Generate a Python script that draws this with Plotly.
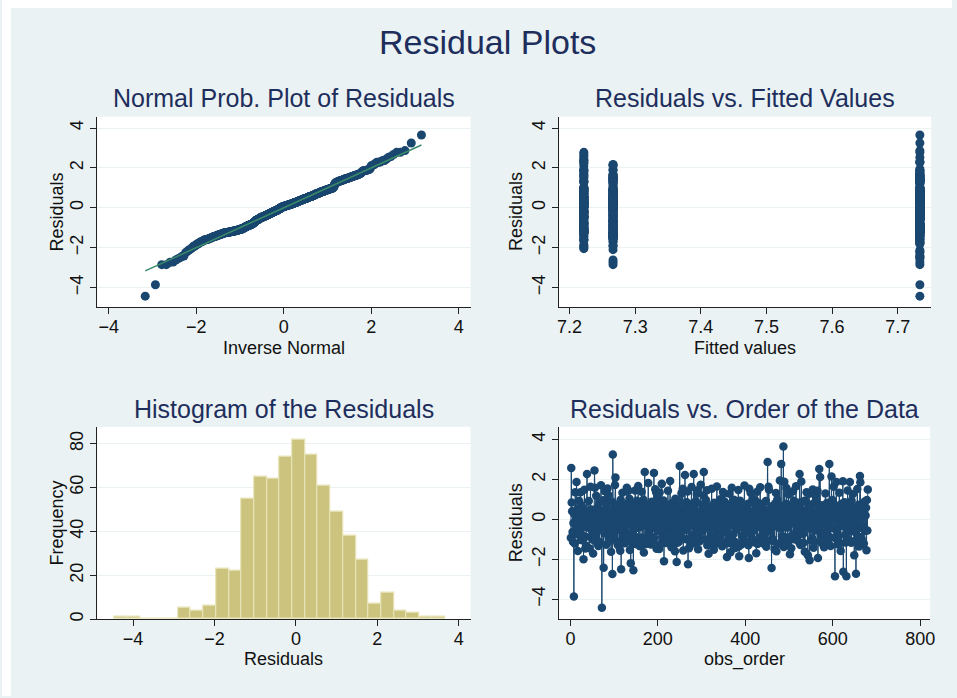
import plotly.graph_objects as go
from statistics import NormalDist, mean, stdev

# ---------------- data ----------------
residuals = [
    -0.92, 2.57, 0.85, 0.41, -0.63, -1.12, -0.18, -3.86, 0.27, -1.21, 1.36, -0.35, 0.08, 1.87, -0.74, 0.52, -1.58, 0.13, -0.46, 0.94,
    0.33, -0.57, 1.36, -0.12, 0.71, -1.05, 0.19, -0.83, 0.58, -2.00, 0.04, 1.48, -0.29, -1.46, -0.87, -1.32, 0.22, 2.28, -0.41, 0.15,
    -0.21, 0.92, -1.44, 0.36, -0.07, 1.63, -0.88, 0.49, -0.54, 0.11, -1.02, -1.71, 0.26, -0.39, 2.45, 1.58, -0.95, 0.03, 1.19, -0.61,
    0.57, -0.26, -1.24, -1.33, 0.14, 0.83, -1.13, 0.38, -0.48, 1.71, 0.02, -4.43, 0.45, -0.15, 0.96, -2.42, 0.31, -0.69, 1.41, -0.33,
    0.18, -1.27, 0.74, -0.44, 1.55, -0.09, 1.22, -0.97, 0.29, -1.08, -0.58, 0.43, -1.62, 0.07, 0.89, -2.73, 3.25, -0.22, 0.51, -0.81,
    0.24, 1.72, 2.10, -0.36, 0.65, -1.09, 0.16, -1.27, -0.52, -0.03, 0.79, -1.38, 0.35, -1.57, 0.98, -2.50, 0.47, -0.19, 1.33, -0.86,
    0.09, -0.49, -1.16, 0.55, -1.19, 0.28, -0.31, 0.77, 1.59, -0.72, 0.12, -0.98, 1.43, -0.14, 1.04, -1.53, 0.39, -2.20, 0.84, -0.25,
    0.46, -1.21, -0.62, -2.55, 0.71, 0.05, -0.84, 1.45, -0.17, 0.32, -1.24, 0.93, -0.42, 0.19, 1.67, -1.16, 0.58, -0.06, -1.35, 0.86,
    -0.38, 0.67, 1.38, -0.91, 0.21, -0.13, 0.99, -1.66, 0.44, 2.37, -1.25, 0.06, -1.13, -0.28, 0.73, -1.07, 0.37, 1.82, -0.64, 0.17,
    0.54, -0.79, 0.25, -1.26, -0.45, 0.88, -1.16, 0.01, 0.61, -0.34, 2.32, -0.93, 0.42, 1.51, -0.20, 1.36, -1.47, 0.13, 1.09, -0.57,
    -0.11, 0.82, -1.48, 1.35, 0.30, -1.23, 0.59, -0.04, 1.78, -0.87, 0.15, -0.40, 0.95, -2.10, 0.48, 0.07, -0.59, -1.18, -0.26, 0.69,
    0.36, -1.02, 1.44, -0.15, 0.72, -0.50, 0.20, 1.92, -0.77, 0.10, -1.40, 0.81, -0.32, 0.53, -0.08, -1.22, -0.96, 0.40, -1.60, 1.03,
    -0.45, 0.63, -2.13, 0.28, -1.17, -0.70, 0.04, -1.12, 0.90, 2.67, -0.23, 0.47, -0.85, 1.31, 0.16, -0.37, 1.54, -1.56, 0.23, -0.02,
    0.61, 2.23, -0.53, 0.11, -0.99, 0.86, -0.18, 1.40, -2.25, 0.34, -1.44, -1.06, 0.00, -1.29, 0.55, -0.30, 1.62, -0.82, 0.19, 0.78,
    -0.27, 2.28, -0.75, 0.50, -1.18, 0.14, 0.91, -0.43, 1.28, -0.05, 1.46, -1.49, 0.31, -0.89, -1.11, 0.08, -0.58, 1.74, -0.16, 0.44,
    0.73, -0.62, 0.18, 1.20, 2.37, -0.41, 0.05, -1.01, 0.57, 0.97, -0.24, 1.46, -1.30, 0.26, -0.12, -1.72, 0.64, -0.47, -1.07, 0.37,
    -0.83, 0.29, 1.54, -0.19, 0.69, -1.26, 0.10, -1.52, 0.83, -1.24, -0.35, 0.47, -0.94, 0.02, 1.65, -0.67, 0.33, -1.08, 0.60, -0.09,
    0.43, -0.29, 1.01, -0.78, 0.22, 0.80, -1.34, 0.12, 1.37, -0.46, 1.28, -0.13, 0.89, -0.61, 0.35, -1.10, 0.06, -1.88, 0.71, -1.19,
    -0.37, 0.51, -0.90, 1.29, 0.17, -1.65, 0.76, -0.07, 1.58, -1.20, 0.40, 0.03, -0.73, 0.98, -0.20, -1.12, -1.43, 0.27, -0.50, 0.62,
    0.88, -0.16, 0.45, 1.47, -1.36, -1.85, 0.30, 0.94, -0.38, 0.09, -1.26, -0.81, 0.55, -0.24, 0.15, -1.04, 0.70, 1.70, -0.44, -0.01,
    0.52, -0.71, -1.15, 0.24, -0.33, 0.79, -1.30, -1.93, 1.53, 0.10, -0.48, 1.34, -0.06, 0.85, -0.92, 0.38, 1.05, -0.57, 0.20, -1.15,
    0.31, 0.96, -0.25, 0.58, -1.70, 0.13, 1.39, -1.23, 0.44, -0.10, 0.82, -1.14, 0.21, 1.61, -0.39, 0.05, -0.86, 0.67, -1.10, -0.52,
    -0.14, 0.48, -1.23, -0.80, 0.16, -0.42, 0.92, -1.37, 0.35, 0.07, 2.87, -0.60, 1.63, 1.48, -0.28, 0.26, -1.06, 0.54, -0.19, -2.43,
    0.66, -0.97, 0.14, -1.08, -0.35, 0.41, -1.50, 0.80, -0.04, 1.32, -1.59, 0.25, 0.99, -0.23, 0.50, -1.22, 0.12, 0.71, 1.95, -0.46,
    -0.31, 2.78, 0.57, -0.84, -1.14, 0.20, 3.65, -1.38, 1.88, -0.12, 0.39, -1.19, 0.78, 1.57, -0.41, 0.03, -0.90, 0.60, 1.25, -0.27,
    0.47, -1.75, -1.02, 0.11, -1.44, 0.74, -0.20, 0.36, 1.41, -0.76, 0.93, -0.02, 0.28, -1.01, 0.62, 1.66, -0.49, 0.18, -0.87, 0.84,
    -0.08, 0.69, -1.14, 2.28, 0.23, -1.28, 0.51, 1.90, -0.36, 0.87, 0.06, -0.73, -1.17, -0.15, 0.42, -1.62, 0.95, -0.43, 0.29, 1.36,
    0.40, -0.30, -1.80, 0.76, 0.15, 1.28, -2.05, 0.58, -0.47, -1.06, -0.11, 0.33, -0.95, 1.50, 0.09, -1.42, 0.81, -1.11, 0.27, 1.21,
    -0.56, 0.89, 0.22, -0.18, 1.43, -1.93, 0.64, -0.39, 2.53, 0.10, 2.12, -0.82, 0.46, -1.17, 0.71, -0.05, -1.09, -0.68, 0.37, -1.39,
    0.19, -1.24, 1.30, -0.26, 0.55, -1.05, 0.83, 0.04, -0.50, -1.19, -0.17, 2.78, -0.88, 0.32, -1.33, 0.60, 2.15, -0.40, 0.97, 0.13,
    -0.44, 1.64, 0.28, -0.92, -2.85, 0.71, 0.02, 1.87, -0.59, 0.45, -1.24, -0.90, -0.21, 0.17, 1.33, -1.20, 0.54, -1.58, 0.08, 0.79,
    0.62, -0.33, 1.91, -2.62, 0.36, -0.13, 0.86, -0.77, -1.16, 0.24, -2.85, 0.50, -0.48, 1.45, -1.00, 0.07, 0.68, -0.24, 1.87, -0.60,
    0.15, -1.17, 0.93, 0.41, -0.51, 1.27, -0.09, 0.58, -1.80, 0.32, -1.06, -0.64, -2.72, 0.47, -0.29, 1.52, 0.05, -0.85, 0.74, -1.36,
    0.26, 2.17, 1.86, -0.42, 0.63, -0.96, 0.11, -1.24, -0.34, 0.77, -1.21, 0.45, 0.90, -0.58, 0.20, 0.58, -1.55, 0.97, -0.55, 1.50,
]

# fitted-value group of each observation (same order as residuals)
fitted_code = (
    "CACBCCACBCACBCCACBCA" "BCCACBCCAACBCCABCCBC" "CBACCBCACBCCACABCCBA" "ACCBCACBCCACBACCABCC"
    "CBCACCBACCBACCABCCAC" "BCACCABCCBACCBACCACB" "CABCCBACCACBCCABCCBA" "ACBCCABCCBCACABCCBCA"
    "CCBACCABCACBCCABCACB" "BCCACBCACBCCABCCACBA" "CACCBACBCCABCBCACCBA" "ACBCCACBACCBCACBCCAB"
    "CBCACBACCABCCACBCCAB" "BACCBCACCABCCBACCABC" "CCABCCBACACBCCABCACC" "ABCCACBCACCBACCBCACB"
    "CACBCCABCCACBCABCCAB" "BCCACBACCBCACCBACBCA" "CBACCABCCACBCACCBACB" "ACCBCACBCCABCCACBCAC"
    "CBCACCBACCABCBCACCAB" "BCACCBCACBCACCBACCAB" "CABCCACBCACBCCABCACC" "ACCBCABCCACBCCABCACB"
    "CACBCACBACCBCACABCCB" "BCACCBACCABCCACBCACC" "CBCACCBACCABCBCACCAB" "ACCBCBACCABCCACBCABC"
    "CBACCBCACABCCACBCACB" "ACBCCACBCABCCACBBCAC" "CACCBACBCCABCACCBACB" "BCABBCACCACBCCABCACC"
    "CABCCACBCACBCCABCACB" "CBCACBCACCABCCACBCAB"
)
fitted_levels = {"A": 7.2218, "B": 7.2663, "C": 7.7338}

# histogram
hist_start = -4.46
hist_width = 0.3123
hist_counts = [1, 1, 0, 0, 0, 5, 4, 6, 23, 22, 55, 65, 64, 74, 82, 75, 61, 49, 38, 27, 7, 12, 4, 3, 1, 1]

ticks_resid = [-4, -2, 0, 2, 4]
ticks_fitted = [7.2, 7.3, 7.4, 7.5, 7.6, 7.7]
ticks_freq = [0, 20, 40, 60, 80]
ticks_order = [0, 200, 400, 600, 800]

assert len(residuals) == len(fitted_code) == 680, (len(residuals), len(fitted_code))

# ---------------- derived ----------------
n = len(residuals)
obs_order = list(range(1, n + 1))
fitted = [fitted_levels[c] for c in fitted_code]
m, s = mean(residuals), stdev(residuals)
sorted_res = sorted(residuals)
inv_normal = [m + s * NormalDist().inv_cdf(i / (n + 1)) for i in range(1, n + 1)]
hist_centers = [hist_start + hist_width * (i + 0.5) for i in range(len(hist_counts))]

# ---------------- styling ----------------
W, H = 957, 698
BG = "#EAF2F3"
NAVY = "#1A476F"
TITLE_C = "#1E2E5C"
FONT = "Liberation Sans, Arial, sans-serif"

def dx(px):
    return px / W

def dy(py):
    return 1 - py / H

fig = go.Figure()

mk = dict(color=NAVY, size=9, line=dict(width=0))
fig.add_trace(go.Scatter(x=inv_normal, y=sorted_res, mode="markers", marker=mk,
                         xaxis="x", yaxis="y", showlegend=False))
fig.add_trace(go.Scatter(x=[inv_normal[0], inv_normal[-1]], y=[inv_normal[0], inv_normal[-1]],
                         mode="lines", line=dict(color="#3A8A6A", width=1.5),
                         xaxis="x", yaxis="y", showlegend=False))
fig.add_trace(go.Scatter(x=fitted, y=residuals, mode="markers", marker=mk,
                         xaxis="x2", yaxis="y2", showlegend=False))
fig.add_trace(go.Bar(x=hist_centers, y=hist_counts, width=hist_width,
                     marker=dict(color="#CBC37E", line=dict(color="#E8E4B8", width=1.2)),
                     xaxis="x3", yaxis="y3", showlegend=False))
fig.add_trace(go.Scatter(x=obs_order, y=residuals, mode="lines+markers",
                         marker=dict(color=NAVY, size=8.5, line=dict(width=0)),
                         line=dict(color=NAVY, width=1),
                         xaxis="x4", yaxis="y4", showlegend=False))

def xax(domain, rng, tv, anchor):
    return dict(domain=domain, range=rng, tickvals=tv, anchor=anchor,
                showline=True, linecolor="#222", linewidth=1, ticks="outside",
                ticklen=6, tickcolor="#222", showgrid=False, zeroline=False,
                ticklabelstandoff=-3,
                tickfont=dict(family=FONT, size=18, color="#111"))

def yax(domain, rng, tv, anchor):
    return dict(domain=domain, range=rng, tickvals=tv, anchor=anchor,
                showline=True, linecolor="#222", linewidth=1, ticks="outside",
                ticklen=6, tickcolor="#222", showgrid=True, gridcolor=BG, gridwidth=1,
                zeroline=False, tickangle=-90,
                tickfont=dict(family=FONT, size=18, color="#111"))

top = [dy(308), dy(117)]
bot = [dy(621), dy(428)]
left = [dx(96), dx(472)]
right = [dx(561), dx(936)]

fig.update_layout(
    width=W, height=H, margin=dict(l=0, r=0, t=0, b=0),
    paper_bgcolor=BG, plot_bgcolor="white", bargap=0,
    xaxis=xax(left, [-4.26, 4.27], ticks_resid, "y"),
    yaxis=yax(top, [-4.98, 4.57], ticks_resid, "x"),
    xaxis2=xax(right, [7.1838, 7.751], ticks_fitted, "y2"),
    yaxis2=yax(top, [-4.98, 4.57], ticks_resid, "x2"),
    xaxis3=xax(left, [-4.88, 4.29], ticks_resid, "y3"),
    yaxis3=yax(bot, [0, 87.7], ticks_freq, "x3"),
    xaxis4=xax([dx(561), dx(935)], [-26.3, 822.6], ticks_order, "y4"),
    yaxis4=yax(bot, [-5.0, 4.64], ticks_resid, "x4"),
    shapes=[
        dict(type="rect", xref="paper", yref="paper", x0=0, x1=dx(9), y0=0, y1=1,
             fillcolor="white", line=dict(width=0), layer="below"),
        dict(type="rect", xref="paper", yref="paper", x0=0, x1=1, y0=dy(8), y1=1,
             fillcolor="white", line=dict(width=0), layer="below"),
    ],
)

ann = []
def text(t, x, y, size, color="#111", angle=0):
    ann.append(dict(text=t, x=dx(x), y=dy(y), xref="paper", yref="paper",
                    showarrow=False, xanchor="center", yanchor="middle",
                    textangle=angle, font=dict(family=FONT, size=size, color=color)))

text("Residual Plots", 489, 42, 34, TITLE_C)
text("Normal Prob. Plot of Residuals", 284, 98, 25, TITLE_C)
text("Residuals vs. Fitted Values", 748.5, 98, 25, TITLE_C)
text("Histogram of the Residuals", 284, 410, 25, TITLE_C)
text("Residuals vs. Order of the Data", 748, 410, 25, TITLE_C)
text("Inverse Normal", 284, 349, 18)
text("Fitted values", 748.5, 349, 18)
text("Residuals", 284, 661, 18)
text("obs_order", 748, 661, 18)
text("Residuals", 55, 212.5, 18, angle=-90)
text("Residuals", 518, 212.5, 18, angle=-90)
text("Frequency", 55, 524.5, 18, angle=-90)
text("Residuals", 518, 524.5, 18, angle=-90)
fig.update_layout(annotations=ann)

fig.write_html("out.html")
